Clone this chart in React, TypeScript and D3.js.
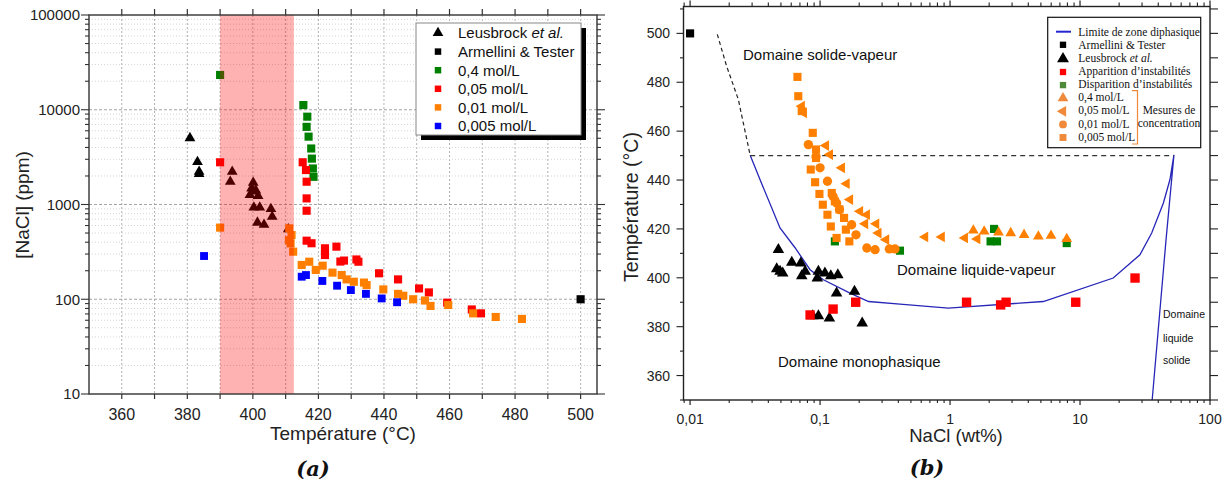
import React from 'react';
import * as d3 from 'd3';

// ---------- Panel (a) data : [Température °C, NaCl ppm] ----------
const leusbrockA: [number, number][] = [
  [380.8, 5030], [383.1, 2810], [383.6, 2220], [383.6, 2100], [393.7, 2220], [393.1, 1740],
  [400.1, 1700], [399.6, 1480], [400.9, 1410], [399.1, 1260], [401.6, 1230], [400.3, 1375],
  [400.3, 930], [402.1, 930], [405.5, 900], [405.9, 745], [401.4, 645], [403.4, 612], [410.8, 550],
];
const armelliniA: [number, number][] = [[500, 100]];
const green04A: [number, number][] = [
  [390, 23300], [415.4, 11200], [416.6, 8450], [416.4, 6600], [417.0, 5200], [417.8, 3900],
  [418.0, 3050], [418.3, 2400], [418.5, 1960],
];
const red005A: [number, number][] = [
  [390, 2790], [415.2, 2790], [416.2, 2310], [416.4, 1740], [416.4, 1160], [416.4, 860],
  [416.4, 415], [417.9, 390], [422.0, 345], [422.0, 293], [425.5, 359], [426.7, 250], [427.8, 256],
  [431.6, 263], [432.2, 249], [438.5, 188], [444.3, 162], [450.7, 130], [453.7, 118], [459.3, 92],
  [466.8, 78], [469.6, 71],
];
const orange001A: [number, number][] = [
  [390, 570], [411.1, 560], [411.8, 476], [411.0, 420], [411.5, 389], [412.3, 318], [414.9, 230],
  [417.2, 249], [419.2, 204], [421.3, 226], [424.3, 191], [427.1, 180], [428.6, 162], [430.8, 153],
  [433.9, 150], [434.7, 141], [439.8, 127], [444.3, 114], [445.9, 109], [448.9, 100], [452.5, 97],
  [454.2, 85], [459.6, 87], [467.2, 71], [474.1, 65], [482.1, 62],
];
const blue0005A: [number, number][] = [
  [385.1, 286], [414.9, 173], [416.2, 180], [421.2, 156], [425.7, 139], [429.9, 125],
  [434.5, 114], [439.3, 102], [444.0, 93],
];
const xTicksA = [360, 380, 400, 420, 440, 460, 480, 500];
const yTicksA = [10, 100, 1000, 10000, 100000];
const shadeA: [number, number] = [390, 412.5];

// ---------- Panel (b) data : [NaCl wt%, Température °C] ----------
const armelliniB: [number, number][] = [[0.01, 500]];
const leusbrockB: [number, number][] = [
  [0.0478, 411.5], [0.0464, 403.6], [0.0492, 402.6], [0.0516, 401.9], [0.0606, 406.3], [0.0711, 406.0],
  [0.0768, 402.6], [0.0723, 400.8], [0.0971, 402.6], [0.0953, 399.9], [0.109, 401.9], [0.121, 400.8],
  [0.137, 401.2], [0.134, 393.7], [0.184, 394.4], [0.0879, 384.4], [0.0971, 384.4], [0.118, 383.5],
  [0.211, 381.4],
];
const apparitionB: [number, number][] = [
  [0.0838, 384.8], [0.126, 387.2], [0.188, 390.0], [1.34, 390.0], [2.45, 388.9], [2.70, 390.0],
  [9.27, 390.0], [26.5, 399.9],
];
const disparitionB: [number, number][] = [
  [0.130, 414.9], [0.412, 411.1], [2.18, 420.0], [2.05, 414.9], [2.3, 414.9], [7.9, 414.2],
];
const mol04B: [number, number][] = [
  [1.51, 419.4], [1.83, 419.0], [2.36, 418.6], [2.93, 418.3], [3.71, 417.6], [4.78, 416.9],
  [5.98, 417.2], [7.90, 415.9],
];
const mol005B: [number, number][] = [
  [0.0723, 470.2], [0.075, 467.5], [0.111, 454.1], [0.119, 450.4], [0.147, 445.0], [0.160, 438.5],
  [0.170, 432.0], [0.203, 427.2], [0.229, 425.8], [0.222, 422.1], [0.27, 422.1], [0.281, 418.3],
  [0.322, 415.6], [0.643, 416.7], [0.863, 416.7], [1.30, 416.3], [1.62, 415.9],
];
const mol001B: [number, number][] = [
  [0.0813, 454.5], [0.0931, 449.5], [0.1, 445.0], [0.114, 439.5], [0.126, 433.3], [0.134, 430.6],
  [0.141, 427.9], [0.175, 421.7], [0.189, 417.6], [0.229, 412.2], [0.265, 411.5], [0.341, 411.8],
  [0.377, 411.8],
];
const mol0005B: [number, number][] = [
  [0.067, 482.2], [0.068, 474.3], [0.0723, 468.2], [0.0879, 459.3], [0.0931, 452.5], [0.0931, 449],
  [0.0848, 444.3], [0.0916, 439.1], [0.0989, 434.3], [0.105, 429.9], [0.114, 425.8], [0.121, 421.0],
  [0.134, 416.3], [0.168, 414.9], [0.123, 434.7], [0.130, 431.3], [0.141, 428], [0.153, 424.5],
  [0.158, 419.7],
];
const limiteB: [number, number][] = [
  [0.029, 450.1], [0.0345, 440.2], [0.0492, 420.4], [0.0642, 412.3], [0.0838, 403.3], [0.106, 399.2],
  [0.170, 393.7], [0.236, 390.3], [0.412, 389.2], [0.97, 387.6], [5.22, 390.3], [18.0, 399.9],
  [28.9, 409.4], [35.6, 418.3], [43.8, 430.6], [49.2, 440.2], [52.8, 450.3], [45.9, 415.6], [35.9, 350],
];
const dashedCurveB: [number, number][] = [[0.0162, 499.6], [0.0191, 486.6], [0.0235, 473], [0.029, 450.1]];
const dashedLevelB: [number, number][] = [[0.029, 450], [52.8, 450]];
const xTicksB = [0.01, 0.1, 1, 10, 100];
const xTickLabelsB = ['0,01', '0,1', '1', '10', '100'];
const yTicksB = [360, 380, 400, 420, 440, 460, 480, 500];

const SANS = '"Liberation Sans", Arial, sans-serif';
const SERIF = '"Liberation Serif", "Times New Roman", serif';

const sym = (type: any, size: number) => d3.symbol().type(type).size(size)() as string;
const TRI = sym(d3.symbolTriangle, 50);
const TRI_L = sym(d3.symbolTriangle, 50);
const SQ = sym(d3.symbolSquare, 66);
const SQ_B = sym(d3.symbolSquare, 62);
const SQ_R = sym(d3.symbolSquare, 88);
const CIRC = sym(d3.symbolCircle, 68);

function Points({ data, x, y, d, fill, rot = 0 }: any) {
  return (
    <g>
      {data.map((p: [number, number], i: number) => (
        <path key={i} d={d} fill={fill} transform={`translate(${x(p[0])},${y(p[1])}) rotate(${rot})`} />
      ))}
    </g>
  );
}

function PanelA() {
  const x = d3.scaleLinear().domain([350, 505]).range([89, 597]);
  const y = d3.scaleLog().domain([10, 100000]).range([394, 15]);
  const [X0, X1] = x.range();
  const [Y1, Y0] = y.range();
  const vgrid = d3.range(360, 505, 10);
  const hgrid: { v: number; major: boolean }[] = [];
  for (let e = 1; e <= 4; e++) for (let k = 1; k <= 9; k++) {
    const v = k * Math.pow(10, e);
    if (v > 10 && v < 100000) hgrid.push({ v, major: k === 1 });
  }
  const yTickAll: { v: number; major: boolean }[] = [];
  for (let e = 1; e <= 5; e++) for (let k = 1; k <= 9; k++) {
    const v = k * Math.pow(10, e);
    if (v <= 100000) yTickAll.push({ v, major: k === 1 });
  }
  const legend = [
    { label: 'Leusbrock ', it: 'et al.', d: TRI, fill: '#000' },
    { label: 'Armellini & Tester', d: sym(d3.symbolSquare, 42), fill: '#000' },
    { label: '0,4 mol/L', d: sym(d3.symbolSquare, 42), fill: '#008000' },
    { label: '0,05 mol/L', d: sym(d3.symbolSquare, 42), fill: '#ff0000' },
    { label: '0,01 mol/L', d: sym(d3.symbolSquare, 42), fill: '#ff8000' },
    { label: '0,005 mol/L', d: sym(d3.symbolSquare, 42), fill: '#0000ff' },
  ];
  return (
    <g fontFamily={SANS}>
      {vgrid.map((v) => (
        <line key={'v' + v} x1={x(v)} x2={x(v)} y1={Y0} y2={Y1} stroke="#a8a8a8" strokeDasharray="2,2" strokeWidth={0.9} />
      ))}
      {hgrid.map((g) => (
        <line key={'h' + g.v} x1={X0} x2={X1} y1={y(g.v)} y2={y(g.v)}
          stroke={g.major ? '#9a9a9a' : '#cfcfcf'} strokeDasharray={g.major ? '3,2' : '1,2'} strokeWidth={0.9} />
      ))}
      <Points data={leusbrockA} x={x} y={y} d={TRI} fill="#000" />
      <Points data={armelliniA} x={x} y={y} d={SQ} fill="#000" />
      <Points data={green04A} x={x} y={y} d={SQ} fill="#008000" />
      <Points data={red005A} x={x} y={y} d={SQ} fill="#ff0000" />
      <Points data={orange001A} x={x} y={y} d={SQ} fill="#ff8000" />
      <Points data={blue0005A} x={x} y={y} d={SQ_B} fill="#0000ff" />
      <rect x={x(shadeA[0])} y={Y0} width={x(shadeA[1]) - x(shadeA[0])} height={Y1 - Y0} fill="#ff0000" fillOpacity={0.3} />
      <rect x={X0} y={Y0} width={X1 - X0} height={Y1 - Y0} fill="none" stroke="#333" strokeWidth={1.4} />
      {d3.range(360, 505, 10).map((v) => (
        <g key={'xt' + v}>
          <line x1={x(v)} x2={x(v)} y1={Y1} y2={Y1 + 5} stroke="#333" strokeWidth={1.2} />
          <line x1={x(v)} x2={x(v)} y1={Y0} y2={Y0 - 6} stroke="#333" strokeWidth={1.2} />
        </g>
      ))}
      {xTicksA.map((v) => (
        <text key={'xl' + v} x={x(v)} y={420} fontSize={16} textAnchor="middle" fill="#222">{v}</text>
      ))}
      {yTickAll.map((t) => (
        <g key={'yt' + t.v}>
          <line x1={X0} x2={X0 - (t.major ? 8 : 4)} y1={y(t.v)} y2={y(t.v)} stroke="#333" strokeWidth={1.1} />
          <line x1={X1} x2={X1 + (t.major ? 8 : 4)} y1={y(t.v)} y2={y(t.v)} stroke="#333" strokeWidth={1.1} />
        </g>
      ))}
      {yTicksA.map((v) => (
        <text key={'yl' + v} x={80} y={y(v)} dy="0.36em" fontSize={15} textAnchor="end" fill="#222">{v}</text>
      ))}
      <text x={343} y={440} fontSize={19} textAnchor="middle" fill="#222">Température (°C)</text>
      <text transform="translate(29,205) rotate(-90)" fontSize={19} textAnchor="middle" fill="#222">[NaCl] (ppm)</text>
      {/* legend */}
      <rect x={421} y={28} width={165} height={112} fill="#000" />
      <rect x={416} y={23} width={165} height={112} fill="#fff" stroke="#888" strokeWidth={1} />
      {legend.map((l, i) => {
        const cy = 33 + i * 18.6;
        return (
          <g key={'lg' + i}>
            <path d={l.d} fill={l.fill} transform={`translate(438,${cy})`} />
            <text x={458} y={cy} dy="0.36em" fontSize={15} fill="#111">
              {l.label}{l.it ? <tspan fontStyle="italic">{l.it}</tspan> : null}
            </text>
          </g>
        );
      })}
      <text x={313} y={476} fontFamily='"DejaVu Serif", serif' fontStyle="italic" fontWeight="bold" fontSize={21} textAnchor="middle" fill="#111">(a)</text>
    </g>
  );
}

function PanelB() {
  const x = d3.scaleLog().domain([0.0089, 100]).range([683.5, 1210]);
  const y = d3.scaleLinear().domain([350, 511]).range([400, 6.5]);
  const [X0, X1] = x.range();
  const [Y1, Y0] = y.range();
  const xMinor: number[] = [];
  for (let e = -3; e <= 1; e++) for (let k = 2; k <= 9; k++) {
    const v = k * Math.pow(10, e);
    if (v >= 0.0089 && v <= 100) xMinor.push(v);
  }
  const line = d3.line<[number, number]>().x((d) => x(d[0])).y((d) => y(d[1]));
  const ORANGE = '#ff8000';
  const LOR = '#f08a3a';
  const legendRows = [
    'Limite de zone diphasique', 'Armellini & Tester', 'Leusbrock ', 'Apparition d’instabilités',
    'Disparition d’instabilités', '0,4 mol/L', '0,05 mol/L', '0,01 mol/L', '0,005 mol/L',
  ];
  const ly = (i: number) => 31.7 + i * 13.1;
  const lx = 1063;
  return (
    <g fontFamily={SANS}>
      <path d={line(limiteB) as string} fill="none" stroke="#2626b8" strokeWidth={1.3} />
      <path d={line(dashedCurveB) as string} fill="none" stroke="#222" strokeWidth={1.2} strokeDasharray="4,3" />
      <path d={line(dashedLevelB) as string} fill="none" stroke="#333" strokeWidth={1.3} strokeDasharray="5,4" />
      <Points data={armelliniB} x={x} y={y} d={SQ} fill="#000" />
      <Points data={leusbrockB} x={x} y={y} d={sym(d3.symbolTriangle, 58)} fill="#000" />
      <Points data={apparitionB} x={x} y={y} d={SQ_R} fill="#ff0000" />
      <Points data={disparitionB} x={x} y={y} d={SQ} fill="#008000" />
      <Points data={mol0005B} x={x} y={y} d={SQ} fill={ORANGE} />
      <Points data={mol001B} x={x} y={y} d={CIRC} fill={ORANGE} />
      <Points data={mol005B} x={x} y={y} d={TRI_L} fill={ORANGE} rot={-90} />
      <Points data={mol04B} x={x} y={y} d={TRI} fill={ORANGE} />
      {/* frame */}
      <rect x={X0} y={Y0} width={X1 - X0} height={Y1 - Y0} fill="none" stroke="#222" strokeWidth={1.4} />
      {xTicksB.map((v, i) => (
        <g key={'xb' + v}>
          <line x1={x(v)} x2={x(v)} y1={Y1} y2={Y1 + 5} stroke="#222" strokeWidth={1.2} />
          <line x1={x(v)} x2={x(v)} y1={Y0} y2={Y0 - 6} stroke="#222" strokeWidth={1.2} />
          <text x={x(v)} y={424} fontSize={14} textAnchor="middle" fill="#222">{xTickLabelsB[i]}</text>
        </g>
      ))}
      {xMinor.map((v) => (
        <g key={'xm' + v}>
          <line x1={x(v)} x2={x(v)} y1={Y1} y2={Y1 + 3} stroke="#222" strokeWidth={1.1} />
          <line x1={x(v)} x2={x(v)} y1={Y0} y2={Y0 - 4} stroke="#222" strokeWidth={1.1} />
        </g>
      ))}
      {d3.range(350, 511, 10).map((v) => {
        const major = yTicksB.includes(v);
        return (
          <g key={'yb' + v}>
            <line x1={X0} x2={X0 - (major ? 7 : 3.5)} y1={y(v)} y2={y(v)} stroke="#222" strokeWidth={1.1} />
            <line x1={X1} x2={X1 + 8} y1={y(v)} y2={y(v)} stroke="#222" strokeWidth={1.1} />
          </g>
        );
      })}
      {yTicksB.map((v) => (
        <text key={'ybl' + v} x={670} y={y(v)} dy="0.36em" fontSize={14} textAnchor="end" fill="#222">{v}</text>
      ))}
      <text x={956} y={442} fontSize={18.5} textAnchor="middle" fill="#222">NaCl (wt%)</text>
      <text transform="translate(638,207) rotate(-90)" fontSize={19.5} textAnchor="middle" fill="#222">Température (°C)</text>
      {/* region labels */}
      <text x={743} y={60} fontSize={15} fill="#111">Domaine solide-vapeur</text>
      <text x={897} y={275} fontSize={15} fill="#111">Domaine liquide-vapeur</text>
      <text x={778} y={367} fontSize={15} fill="#111">Domaine monophasique</text>
      <text x={1163} y={318} fontSize={10.5} fill="#111">Domaine</text>
      <text x={1163} y={342} fontSize={10.5} fill="#111">liquide</text>
      <text x={1163} y={364} fontSize={10.5} fill="#111">solide</text>
      {/* legend */}
      <rect x={1047.7} y={17.3} width={153} height={130.4} fill="#fff" stroke="#111" strokeWidth={1.2} />
      <line x1={1056} x2={1071} y1={ly(0)} y2={ly(0)} stroke="#2626d0" strokeWidth={2} />
      <path d={sym(d3.symbolSquare, 40)} fill="#000" transform={`translate(${lx},${ly(1)})`} />
      <path d={sym(d3.symbolTriangle, 62)} fill="#000" transform={`translate(${lx},${ly(2) + 1})`} />
      <path d={sym(d3.symbolSquare, 40)} fill="#ff0000" transform={`translate(${lx},${ly(3) + 1})`} />
      <path d={sym(d3.symbolSquare, 40)} fill="#4f8a3a" transform={`translate(${lx},${ly(4) + 1})`} />
      <path d={sym(d3.symbolTriangle, 50)} fill={LOR} transform={`translate(${lx},${ly(5) + 1})`} />
      <path d={sym(d3.symbolTriangle, 50)} fill={LOR} transform={`translate(${lx},${ly(6) + 1}) rotate(-90)`} />
      <path d={sym(d3.symbolCircle, 48)} fill={LOR} transform={`translate(${lx},${ly(7) + 1})`} />
      <path d={sym(d3.symbolSquare, 48)} fill={LOR} transform={`translate(${lx},${ly(8) + 1})`} />
      {legendRows.map((t, i) => (
        <text key={'lr' + i} x={1078.3} y={ly(i)} dy="0.36em" fontFamily={SERIF} fontSize={11.5} fill="#111">
          {t}{i === 2 ? <tspan fontStyle="italic">et al.</tspan> : null}
        </text>
      ))}
      <path d="M1132,90.7 H1137.5 V144 H1132" fill="none" stroke={LOR} strokeWidth={1.2} />
      <text x={1169} y={110} dy="0.36em" fontFamily={SERIF} fontSize={11.5} textAnchor="middle" fill="#111">Mesures de</text>
      <text x={1169} y={123} dy="0.36em" fontFamily={SERIF} fontSize={11.5} textAnchor="middle" fill="#111">concentration</text>
      <text x={927} y={475} fontFamily='"DejaVu Serif", serif' fontStyle="italic" fontWeight="bold" fontSize={21} textAnchor="middle" fill="#111">(b)</text>
    </g>
  );
}

export default function App() {
  return (
    <svg width={1227} height={488} viewBox="0 0 1227 488"
      style={{ position: 'absolute', left: 0, top: 0, background: '#fff' }}>
      <rect x={0} y={0} width={1227} height={488} fill="#fff" />
      <PanelA />
      <PanelB />
    </svg>
  );
}
